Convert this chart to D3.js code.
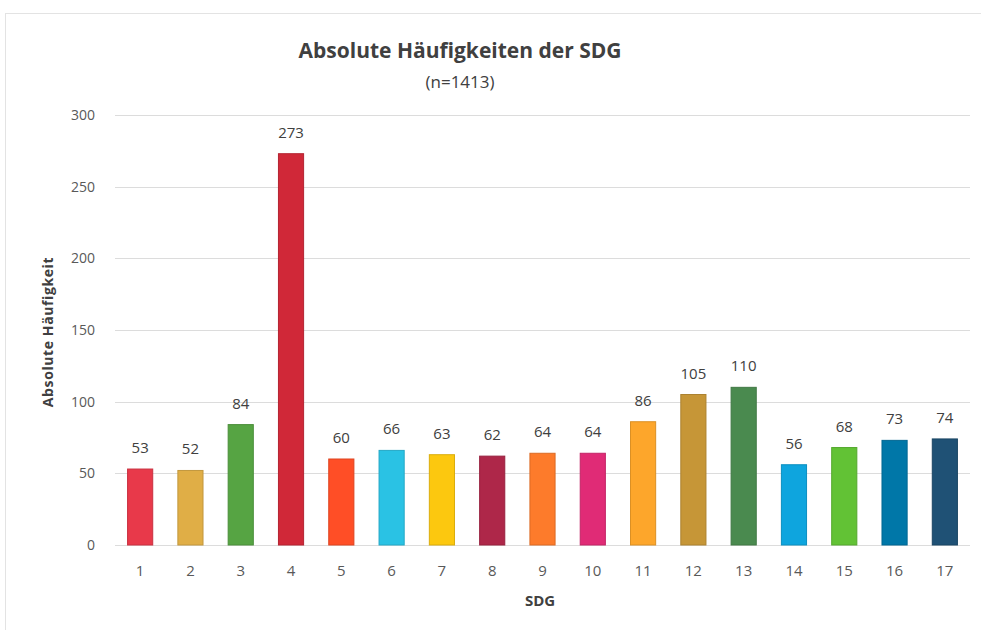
<!DOCTYPE html>
<html><head><meta charset="utf-8">
<script src="https://cdn.jsdelivr.net/npm/d3@7"></script>
<style>
html,body{margin:0;padding:0;background:#fff;}
svg{display:block;font-family:'Open Sans','Noto Sans',sans-serif;}
</style></head>
<body><svg id="c" width="981" height="630"></svg>
<script>
const categories = ["1","2","3","4","5","6","7","8","9","10","11","12","13","14","15","16","17"];
const values = [53,52,84,273,60,66,63,62,64,64,86,105,110,56,68,73,74];
const colors = ["#E8394A","#E0AE46","#56A443","#D02838","#FF4E26","#2AC2E4","#FCC80F","#AE2749","#FD7B2B","#E02B76","#FDA62B","#C69637","#4A8A4F","#0EA5DE","#62C235","#0077A8","#1F5175"];
const yTicks = [0,50,100,150,200,250,300];
const title = "Absolute Häufigkeiten der SDG";
const subtitle = "(n=1413)";
const yTitle = "Absolute Häufigkeit";
const xTitle = "SDG";

const svg = d3.select("#c");
// chart border
svg.append("rect").attr("x",5.5).attr("y",13.5).attr("width",1000).attr("height",700)
  .attr("fill","none").attr("stroke","#e3e3e3");

const m = {left:115, right:970, top:115, bottom:545};
const x = d3.scaleBand().domain(categories).range([m.left,m.right]).paddingInner(0.5).paddingOuter(0.25);
const y = d3.scaleLinear().domain([0,300]).range([m.bottom,m.top]);

// gridlines
svg.append("g").selectAll("line").data(yTicks).join("line")
  .attr("x1",m.left).attr("x2",m.right)
  .attr("y1",d=>Math.round(y(d))+0.5).attr("y2",d=>Math.round(y(d))+0.5)
  .attr("stroke","#dcdcdc").attr("stroke-width",1);

// y tick labels
svg.append("g").selectAll("text").data(yTicks).join("text")
  .attr("x",95).attr("y",d=>y(d)).attr("dy","0.35em").attr("text-anchor","end")
  .attr("font-size",14).attr("fill","#595959").text(d=>d);

// bars
svg.append("g").selectAll("rect").data(values).join("rect")
  .attr("x",(d,i)=>x(categories[i])).attr("width",x.bandwidth())
  .attr("y",d=>y(d)).attr("height",d=>y(0)-y(d))
  .attr("fill",(d,i)=>colors[i])
  .attr("stroke",(d,i)=>d3.color(colors[i]).darker(0.4)).attr("stroke-width",1);

// value labels
svg.append("g").selectAll("text").data(values).join("text")
  .attr("x",(d,i)=>x(categories[i])+x.bandwidth()/2).attr("y",d=>y(d)-16)
  .attr("text-anchor","middle").attr("font-size",15).attr("fill","#404040").text(d=>d);

// x tick labels
svg.append("g").selectAll("text").data(categories).join("text")
  .attr("x",d=>x(d)+x.bandwidth()/2).attr("y",571).attr("dy","0.35em")
  .attr("text-anchor","middle").attr("font-size",15).attr("fill","#595959").text(d=>d);

// axis titles
svg.append("text").attr("x",540).attr("y",601).attr("dy","0.35em").attr("text-anchor","middle")
  .attr("font-size",15).attr("font-weight","bold").attr("fill","#404040").text(xTitle);
svg.append("text").attr("transform","translate(48,332) rotate(-90)").attr("dy","0.35em")
  .attr("text-anchor","middle").attr("font-size",14).attr("letter-spacing","0.6px").attr("font-weight","bold").attr("fill","#404040").text(yTitle);

// title
svg.append("text").attr("x",460).attr("y",51).attr("dy","0.35em").attr("text-anchor","middle")
  .attr("font-size",21).attr("font-weight","bold").attr("fill","#404040").text(title);
svg.append("text").attr("x",460).attr("y",82).attr("dy","0.35em").attr("text-anchor","middle")
  .attr("font-size",17).attr("fill","#404040").text(subtitle);
</script></body></html>
